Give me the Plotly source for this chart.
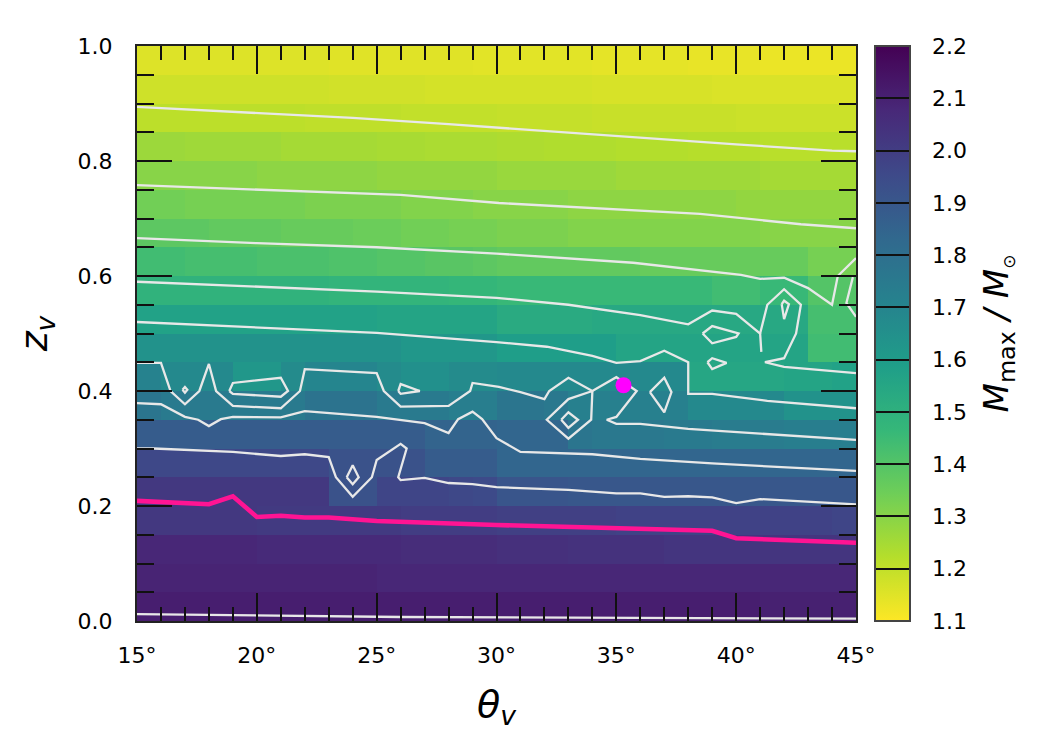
import plotly.graph_objects as go

x_edges = list(range(15, 46))
y_edges = [round(i * 0.05, 2) for i in range(21)]

m_00 = [2.11,2.11,2.11,2.11,2.11, 2.11,2.11,2.11,2.11,2.11, 2.11,2.11,2.11,2.11,2.11, 2.11,2.11,2.11,2.11,2.11, 2.11,2.11,2.11,2.11,2.11, 2.11,2.10,2.10,2.10,2.10]
m_05 = [2.09,2.09,2.09,2.09,2.09, 2.09,2.09,2.09,2.09,2.09, 2.08,2.08,2.08,2.08,2.08, 2.08,2.08,2.08,2.08,2.08, 2.08,2.08,2.08,2.08,2.08, 2.08,2.08,2.08,2.08,2.08]
m_10 = [2.08,2.08,2.08,2.08,2.08, 2.07,2.07,2.07,2.07,2.07, 2.07,2.06,2.06,2.06,2.06, 2.05,2.05,2.05,2.04,2.04, 2.04,2.04,2.03,2.03,2.03, 2.03,2.03,2.03,2.03,2.03]
m_15 = [2.02,2.02,2.02,2.02,2.02, 2.01,2.01,2.01,2.01,2.01, 2.01,2.00,2.00,2.00,2.00, 1.99,1.99,1.99,1.99,1.99, 1.98,1.98,1.98,1.98,1.98, 1.98,1.98,1.98,1.98,1.97]
m_20 = [2.02,2.02,2.02,2.02,2.02, 2.02,2.02,2.02,1.92,1.92, 1.97,1.97,1.97,1.96,1.95, 1.91,1.91,1.91,1.90,1.90, 1.90,1.90,1.90,1.90,1.90, 1.90,1.90,1.90,1.90,1.90]
m_25 = [1.96,1.96,1.96,1.96,1.96, 1.96,1.96,1.96,1.92,1.92, 1.92,1.92,1.88,1.88,1.88, 1.84,1.84,1.84,1.84,1.84, 1.84,1.84,1.84,1.84,1.84, 1.84,1.84,1.84,1.84,1.84]
m_30 = [1.88,1.88,1.88,1.88,1.88, 1.88,1.88,1.88,1.88,1.88, 1.88,1.88,1.85,1.85,1.85, 1.84,1.84,1.84,1.77,1.76, 1.76,1.76,1.75,1.75,1.74, 1.74,1.74,1.73,1.73,1.73]
m_35 = [1.77,1.75,1.75,1.75,1.75, 1.75,1.75,1.78,1.78,1.78, 1.75,1.75,1.75,1.73,1.73, 1.77,1.77,1.76,1.72,1.72, 1.72,1.72,1.72,1.68,1.68, 1.68,1.68,1.64,1.64,1.64]
m_40 = [1.71,1.68,1.68,1.68,1.62, 1.62,1.67,1.70,1.70,1.70, 1.67,1.65,1.65,1.67,1.67, 1.68,1.68,1.68,1.68,1.68, 1.68,1.68,1.68,1.55,1.55, 1.55,1.55,1.56,1.56,1.57]
m_45 = [1.64,1.64,1.64,1.64,1.64, 1.64,1.64,1.64,1.64,1.64, 1.64,1.62,1.62,1.62,1.62, 1.59,1.59,1.59,1.59,1.59, 1.56,1.56,1.56,1.56,1.56, 1.56,1.56,1.56,1.44,1.44]
m_50 = [1.57,1.57,1.57,1.57,1.57, 1.57,1.57,1.57,1.57,1.57, 1.56,1.56,1.56,1.56,1.56, 1.53,1.53,1.53,1.53,1.54, 1.54,1.54,1.54,1.54,1.54, 1.54,1.54,1.54,1.43,1.43]
m_55 = [1.49,1.49,1.49,1.49,1.49, 1.49,1.49,1.49,1.48,1.48, 1.48,1.48,1.48,1.47,1.47, 1.46,1.46,1.46,1.46,1.46, 1.46,1.46,1.46,1.46,1.44, 1.44,1.46,1.46,1.40,1.40]
m_60 = [1.44,1.44,1.43,1.43,1.43, 1.42,1.42,1.42,1.41,1.41, 1.40,1.40,1.39,1.39,1.38, 1.37,1.37,1.37,1.37,1.37, 1.37,1.36,1.36,1.36,1.36, 1.36,1.36,1.36,1.33,1.33]
m_65 = [1.38,1.38,1.38,1.37,1.37, 1.37,1.36,1.36,1.36,1.35, 1.35,1.34,1.34,1.33,1.33, 1.32,1.32,1.32,1.31,1.31, 1.31,1.31,1.31,1.31,1.31, 1.31,1.30,1.30,1.30,1.30]
m_70 = [1.34,1.34,1.33,1.33,1.33, 1.33,1.33,1.32,1.32,1.32, 1.32,1.31,1.31,1.31,1.30, 1.30,1.30,1.30,1.29,1.29, 1.29,1.29,1.29,1.29,1.29, 1.28,1.28,1.28,1.28,1.28]
m_75 = [1.30,1.30,1.30,1.30,1.30, 1.29,1.29,1.29,1.29,1.29, 1.28,1.28,1.28,1.28,1.28, 1.27,1.27,1.27,1.27,1.27, 1.26,1.26,1.26,1.26,1.26, 1.26,1.25,1.25,1.25,1.25]
m_80 = [1.265,1.265,1.26,1.26,1.26, 1.26,1.25,1.25,1.25,1.25, 1.245,1.245,1.24,1.24,1.24, 1.235,1.235,1.23,1.23,1.23, 1.225,1.225,1.225,1.22,1.22, 1.22,1.215,1.215,1.215,1.215]
m_85 = [1.21,1.21,1.21,1.21,1.21, 1.21,1.21,1.205,1.205,1.205, 1.205,1.20,1.20,1.20,1.20, 1.195,1.195,1.195,1.195,1.19, 1.19,1.19,1.19,1.19,1.19, 1.185,1.185,1.185,1.185,1.185]
m_90 = [1.18,1.18,1.18,1.18,1.18, 1.18,1.18,1.18,1.175,1.175, 1.175,1.175,1.17,1.17,1.17, 1.17,1.17,1.17,1.17,1.165, 1.165,1.165,1.165,1.165,1.16, 1.16,1.16,1.16,1.16,1.16]
m_95 = [1.155,1.155,1.155,1.155,1.155, 1.155,1.155,1.155,1.15,1.15, 1.15,1.15,1.15,1.15,1.145, 1.145,1.145,1.145,1.145,1.14, 1.14,1.14,1.14,1.135,1.135, 1.135,1.13,1.13,1.13,1.13]
m_max = [m_00, m_05, m_10, m_15, m_20, m_25, m_30, m_35, m_40, m_45,
         m_50, m_55, m_60, m_65, m_70, m_75, m_80, m_85, m_90, m_95]

# contour lines, (theta, z)
c12 = [(15,.894),(20,.884),(24,.875),(28,.864),(32,.852),(36,.84),(40,.829),(44,.818),(45,.817)]
c13 = [(15,.758),(21.8,.748),(26,.741),(30.1,.727),(34.3,.717),(38.5,.708),(42.7,.69),(45,.683)]
c14 = [(15,.666),(20,.657),(25,.65),(30,.639),(35.7,.623),(40.2,.602),(41,.595),(42,.597),(43,.579),(44,.55),(44.24,.60),(45,.631)]
c15 = [(15,.59),(20,.581),(25,.573),(30,.562),(33,.55),(36,.532),(38,.516),(39,.54),(40,.534),(41,.50),(41.05,.468)]
c16 = [(41,.50),(41.3,.55),(42,.577),(42.7,.55),(42.5,.50),(42,.457),(41.2,.45),(42,.442),(45,.431)]
c16a = [(41.9,.551),(42,.557),(42.2,.551),(42,.525),(41.9,.551)]
c16b = [(38.6,.50),(39,.513),(40.1,.50),(40,.494),(39,.483),(38.6,.50)]
c16c = [(38.8,.45),(39,.457),(39.6,.449),(39,.438),(38.8,.45)]
c16d = [(44.87,.598),(44.6,.553),(45,.529)]
c17 = [(15,.52),(20,.511),(25,.501),(30,.485),(32.1,.477),(34,.461),(35,.449),(36,.452),(37,.47),(38,.45),(38,.395),(39,.395),(41.3,.383),(45,.37)]
c18 = [(15,.449),(16,.449),(16.4,.40),(17,.377),(17.6,.40),(18,.447),(18.3,.40),(19,.374),(21,.37),(21.8,.40),(22,.438),(25,.431),(25.3,.40),(26,.373),(28,.374),(28.9,.40),(29,.414),(30.1,.407),(31,.398),(32,.386),(32.2,.40),(33,.423),(34,.40),(35,.424),(35.85,.40),(35,.355),(34.6,.35),(35,.343),(36,.343),(38,.334),(45,.315)]
c18a = [(34,.40),(33,.386),(32.1,.35),(33,.317),(33.95,.35),(34,.40)]
c18b = [(32.7,.35),(33,.363),(33.4,.35),(33,.336),(32.7,.35)]
c18c = [(36.4,.398),(37,.423),(37.3,.398),(37,.363),(36.4,.398)]
c18d = [(16.9,.402),(17,.407),(17.1,.402),(17,.397),(16.9,.402)]
c18e = [(18.85,.40),(19,.414),(21,.423),(21.3,.40),(21,.39),(19,.395),(18.85,.40)]
c18f = [(25.9,.40),(26,.412),(26.8,.40),(26,.395),(25.9,.40)]
c19 = [(15,.379),(16,.377),(17,.355),(17.55,.35),(18,.339),(18.5,.351),(19,.355),(21,.354),(22,.365),(25,.355),(27,.344),(28,.327),(28.4,.351),(29,.364),(29.4,.351),(30,.318),(31,.294),(33,.292),(34,.29),(36,.282),(39,.274),(45,.261)]
c20 = [(15,.30),(15.7,.30),(19,.294),(21,.287),(22,.29),(23,.285),(23.3,.25),(24,.216),(24.8,.25),(25,.28),(26,.308),(26.25,.30),(25.9,.25),(26,.245),(27,.249),(28,.24),(29,.238),(30,.233),(31,.231),(33,.228),(35,.222),(36,.222),(37,.216),(38,.217),(39,.215),(40,.205),(41,.212),(45,.203)]
c20a = [(23.75,.25),(24,.271),(24.25,.25),(24,.238),(23.75,.25)]
c21 = [(15,.012),(19,.01),(26,.007),(45,.004)]
white_lines = [c12, c13, c14, c15, c16, c16a, c16b, c16c, c16d, c17, c18, c18a, c18b, c18c, c18d, c18e, c18f, c19, c20, c20a, c21]

pink_line = [(15,.209),(16,.207),(17,.205),(18,.203),(19,.217),(20,.181),(21,.183),(22,.18),(23,.18),(25,.174),(30,.167),(35,.162),(38,.158),(39,.157),(40,.144),(45,.136)]
marker_point = (35.3, 0.41)

x_tick_vals = [15, 20, 25, 30, 35, 40, 45]
x_tick_text = ["15°", "20°", "25°", "30°", "35°", "40°", "45°"]
y_tick_vals = [0.0, 0.2, 0.4, 0.6, 0.8, 1.0]
y_tick_text = ["0.0", "0.2", "0.4", "0.6", "0.8", "1.0"]

FONT = "DejaVu Sans"
fig = go.Figure()
fig.add_trace(go.Heatmap(
    x=x_edges, y=y_edges, z=m_max, zmin=1.1, zmax=2.2, colorscale="Viridis_r",
    hoverinfo="skip",
    colorbar=dict(
        x=1.0264, xanchor="left", xpad=0, y=0.5, yanchor="middle", ypad=0, len=1,
        thickness=35, outlinecolor="#444444", outlinewidth=2,
        tickmode="linear", tick0=1.1, dtick=0.1, tickformat=".1f",
        tickprefix="\u00a0\u00a0\u200a", ticksuffix="\u00a0",
        ticks="inside", ticklen=35, tickwidth=2, tickcolor="#111111",
        tickfont=dict(family=FONT, size=22, color="black"),
        title=dict(text='<i>M</i><sub>max</sub> <i>/ M</i><sub><span style="font-size:17px">⊙</span></sub>', side="right",
                   font=dict(family=FONT, size=34, color="black")),
    ),
))
for line in white_lines:
    fig.add_trace(go.Scatter(x=[p[0] for p in line], y=[p[1] for p in line], mode="lines",
                             line=dict(color="#e8e8e8", width=2.3), hoverinfo="skip", showlegend=False))
fig.add_trace(go.Scatter(x=[p[0] for p in pink_line], y=[p[1] for p in pink_line], mode="lines",
                         line=dict(color="#ff1493", width=4.6), hoverinfo="skip", showlegend=False))
fig.add_trace(go.Scatter(x=[marker_point[0]], y=[marker_point[1]], mode="markers",
                         marker=dict(color="#ff00ff", size=16), hoverinfo="skip", showlegend=False))

fig.update_layout(
    width=1032, height=727, paper_bgcolor="white", plot_bgcolor="white",
    margin=dict(l=129, r=184, t=38, b=114), showlegend=False,
    font=dict(family=FONT, size=22, color="black"),
    xaxis=dict(range=[15, 45], tickmode="array", tickvals=x_tick_vals, ticktext=x_tick_text,
               ticks="inside", ticklen=28, tickwidth=2, tickcolor="#111111", ticklabelstandoff=14,
               minor=dict(ticks="inside", ticklen=14, tickwidth=2, tickcolor="#111111", tickmode="linear", tick0=15, dtick=1),
               showline=True, linecolor="#222222", linewidth=2, mirror="ticks", showgrid=False, zeroline=False,
               tickfont=dict(family=FONT, size=22, color="black"),
               title=dict(text="<i>θ<sub>v</sub></i>", font=dict(family=FONT, size=38, color="black"), standoff=23)),
    yaxis=dict(range=[0, 1], tickmode="array", tickvals=y_tick_vals, ticktext=y_tick_text,
               ticks="inside", ticklen=35, tickwidth=2, tickcolor="#111111", ticklabelstandoff=18,
               minor=dict(ticks="inside", ticklen=17, tickwidth=2, tickcolor="#111111", tickmode="linear", tick0=0, dtick=0.05),
               showline=True, linecolor="#222222", linewidth=2, mirror="ticks", showgrid=False, zeroline=False,
               tickfont=dict(family=FONT, size=22, color="black"),
               title=dict(text="<i>z<sub>v</sub></i>", font=dict(family=FONT, size=38, color="black"), standoff=18)),
)
fig.write_html("out.html")
